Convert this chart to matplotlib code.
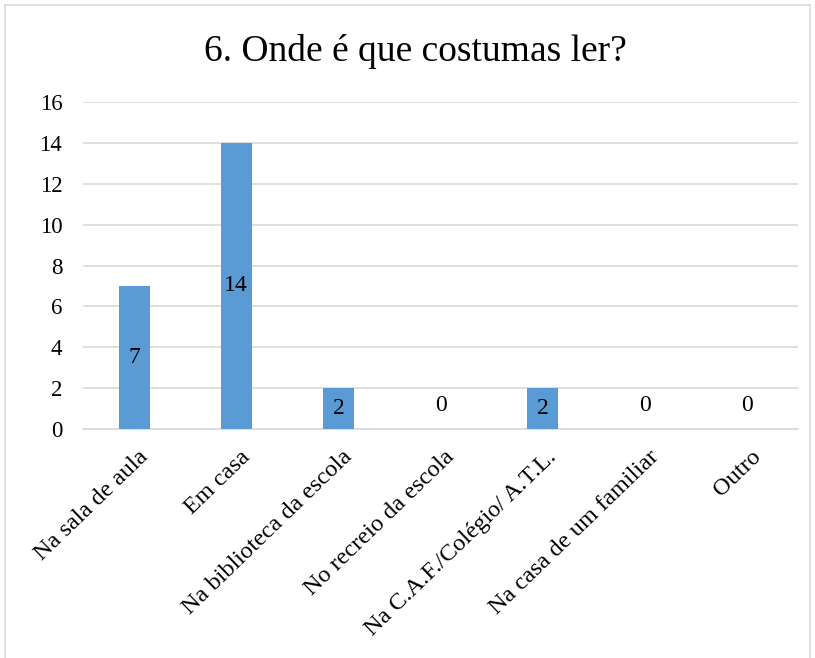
import matplotlib.pyplot as plt
from matplotlib.patches import Rectangle
from matplotlib.transforms import ScaledTranslation

plt.rcParams['font.family'] = ['Liberation Serif', 'DejaVu Serif']

categorias = ["Na sala de aula", "Em casa", "Na biblioteca da escola",
              "No recreio da escola", "Na C.A.F./Colégio/ A.T.L.",
              "Na casa de um familiar", "Outro"]
valores = [7, 14, 2, 0, 2, 0, 0]
yticks = [0, 2, 4, 6, 8, 10, 12, 14, 16]

COR_BARRA = '#5B9BD5'
COR_GRELHA = '#D9D9D9'

fig = plt.figure(figsize=(8.15, 6.58), dpi=100)
ax = fig.add_axes([0.102, 0.348, 0.877, 0.497])

x = list(range(len(categorias)))
ax.bar(x, valores, width=0.30, color=COR_BARRA, zorder=3)

# rótulos dos valores
for xi, v in zip(x, valores):
    if v > 0:
        ax.text(xi, v / 2, str(v), ha='center', va='center', fontsize=17, zorder=4)
    else:
        ax.annotate(str(v), (xi, v), xytext=(0, 17), textcoords='offset points',
                    ha='center', va='center', fontsize=17, zorder=4)

ax.set_xlim(-0.5, len(categorias) - 0.5)
ax.set_ylim(0, 16)
ax.set_yticks(yticks)
ax.set_yticklabels([str(t) for t in yticks], fontsize=16.5)
ax.yaxis.grid(True, color=COR_GRELHA, linewidth=1.2, zorder=0)
ax.set_axisbelow(True)
ax.tick_params(axis='y', length=0, pad=15)

ax.set_xticks(x)
ax.set_xticklabels(categorias, rotation=44, ha='right', va='center',
                   rotation_mode='anchor', fontsize=17.5)
ax.tick_params(axis='x', length=0, pad=18)
desloc = ScaledTranslation(8 / 72, 0, fig.dpi_scale_trans)
for lbl in ax.get_xticklabels():
    lbl.set_transform(lbl.get_transform() + desloc)

for s in ['top', 'right', 'left']:
    ax.spines[s].set_visible(False)
ax.spines['bottom'].set_color(COR_GRELHA)
ax.spines['bottom'].set_linewidth(1.2)

fig.text(0.51, 0.922, "6. Onde é que costumas ler?", ha='center', va='center',
         fontsize=27)

# moldura do gráfico
fig.patches.append(Rectangle((0.006, -0.01), 0.988, 1.002, transform=fig.transFigure,
                             fill=False, edgecolor='#D9D9D9', linewidth=1.2))

fig.savefig("out.png", dpi=100, facecolor='white')
